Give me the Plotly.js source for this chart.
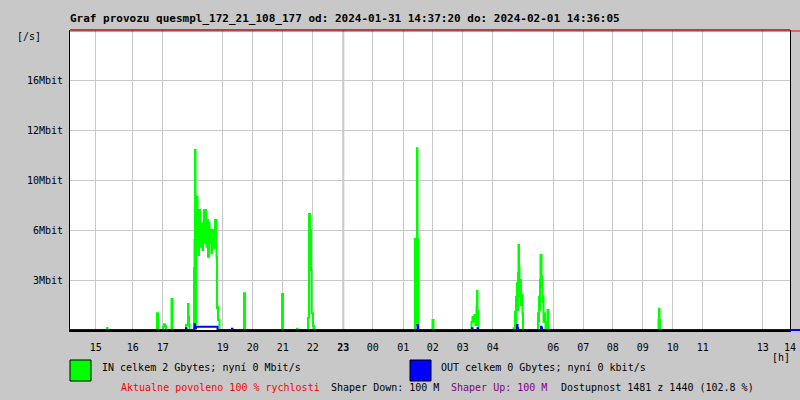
<!DOCTYPE html>
<html>
<head>
<meta charset="utf-8">
<script src="https://cdn.plot.ly/plotly-3.0.1.min.js"></script>
<style>
html,body{margin:0;padding:0;background:#c8c8c8;}
#chart{width:800px;height:400px;}
</style>
</head>
<body>
<div id="chart"></div>
<script>
// time axis: sample slot index (0..720 across the 24h window)
const tickSlots = [25.7, 62.7, 92.7, 152.7, 182.7, 212.7, 242.7, 273.3, 302.7, 333.3, 362.7, 392.7, 422.7, 483.3, 513.3, 542.7, 572.7, 602.7, 632.7, 692.7, 720];
const tickHours = ["15", "16", "17", "19", "20", "21", "22", "<b>23</b>", "00", "01", "02", "03", "04", "06", "07", "08", "09", "10", "11", "13", "14"];

const yTickVals = [3, 6, 9, 12, 15];
const yTickText = ["3Mbit", "6Mbit", "10Mbit", "12Mbit", "16Mbit"];

// IN traffic (green)
const inT = [0,
  36.5, 37, 37.5,
  86.5, 87, 87.5, 88, 88.5,
  92, 93, 94, 95, 96,
  101, 101.5, 102, 102.5,
  115.5, 116, 117, 118, 118.5, 119, 119.5,
  123.5, 124, 124.5, 125, 125.5, 126, 127, 127.5, 128, 128.5, 129, 130, 130.5, 131, 132, 132.5, 133, 134, 134.5, 135, 136, 136.5, 137, 138, 139, 139.5, 140, 141, 141.5, 142, 143, 143.5, 144, 145, 146, 146.5, 147, 147.5, 148, 149, 149.5,
  173.5, 174, 174.5, 175,
  211.5, 212, 212.5, 213,
  226.5, 227, 227.5,
  237.5, 238, 238.5, 239, 239.5, 240, 240.5, 241, 241.5, 242, 243, 244, 244.5,
  344.5, 345, 346, 346.5, 347, 347.5, 348, 348.5,
  362, 362.5, 363, 363.5,
  401, 401.5, 402.5, 403.5, 404.5, 405.5, 406.5, 407, 407.5, 408, 408.5,
  443, 443.5, 445, 445.5, 446, 446.5, 447, 447.5, 448, 448.5, 449, 449.5, 450, 450.5, 451, 452, 452.5, 453,
  467.5, 468, 468.5, 469, 469.5, 470, 470.5, 471, 471.5, 472, 472.5, 473, 473.5, 474, 475, 475.5, 477, 477.5, 478, 478.5,
  588, 588.5, 589, 589.5, 590,
  720];
const inVal = [0,
  0, 0.12, 0,
  0, 1.0, 1.0, 0.55, 0,
  0, 0.2, 0.35, 0.25, 0,
  0, 1.86, 1.86, 0,
  0, 0.3, 0.3, 1.56, 0.8, 0.3, 0,
  0, 3.7, 5.4, 10.8, 0.3, 8.0, 8.0, 5.0, 6.0, 4.5, 7.2, 6.4, 5.0, 6.4, 5.6, 4.8, 6.0, 7.2, 5.2, 7.2, 6.6, 5.0, 6.6, 4.4, 6.4, 5.2, 6.0, 5.6, 4.6, 5.6, 6.0, 4.9, 5.6, 6.6, 6.6, 4.4, 1.3, 1.4, 0.6, 0.6, 0,
  0, 2.2, 2.2, 0,
  0, 2.16, 2.16, 0,
  0, 0.08, 0,
  0, 0.74, 0.74, 6.96, 6.96, 4.2, 6.0, 3.6, 1.0, 1.0, 0.24, 0.1, 0,
  0, 5.46, 5.46, 0.3, 10.9, 5.46, 5.46, 0,
  0, 0.6, 0.6, 0,
  0, 0.5, 0.8, 0.5, 0.9, 0.3, 1.4, 2.34, 1.14, 1.14, 0,
  0, 0.1, 1.1, 0.3, 2.0, 1.5, 2.8, 1.2, 3.4, 5.1, 3.8, 3.0, 2.0, 3.0, 1.5, 2.1, 1.0, 0,
  0, 1.0, 0.5, 2.0, 1.2, 3.0, 4.5, 4.5, 2.6, 3.2, 1.7, 2.0, 0.5, 1.0, 0.5, 0, 0, 1.2, 1.2, 0,
  0, 0.6, 1.26, 0.6, 0,
  0];

// OUT traffic (blue)
const outT = [0, 115.5, 116, 116.5, 124, 124.5, 125, 126, 147, 147.5, 161.5, 162, 162.5, 347, 347.5, 348, 401.5, 402, 402.5, 407, 407.5, 408, 446.5, 447, 447.5, 448, 470.5, 471, 471.5, 472, 720];
const outVal = [0, 0, 0.1, 0, 0, 0.35, 0.1, 0.2, 0.2, 0, 0, 0.08, 0, 0, 0.3, 0, 0, 0.1, 0, 0, 0.1, 0, 0, 0.3, 0.1, 0, 0, 0.2, 0.1, 0, 0];

const titleText = "Graf provozu quesmpl_172_21_108_177 od: 2024-01-31 14:37:20 do: 2024-02-01 14:36:05";
const inLegend = "IN celkem 2 Gbytes; nyní 0 Mbit/s";
const outLegend = "OUT celkem 0 Gbytes; nyní 0 kbit/s";
const infoTexts = ["Aktualne povoleno 100 % rychlosti", "Shaper Down: 100 M", "Shaper Up: 100 M", "Dostupnost 1481 z 1440 (102.8 %)"];
const infoColors = ["#ff0000", "#000000", "#800080", "#000000"];
const infoX = [119, 329, 449, 559];

const MONO = "DejaVu Sans Mono, Liberation Mono, monospace";
const W = 800, H = 400, L = 70, R = 10, T = 30, B = 70;
const pw = W - L - R, ph = H - T - B;
function px2paperX(p) { return (p - L) / pw; }
function px2paperY(p) { return (H - B - p) / ph; }

const traces = [
  {x: inT, y: inVal, type: 'scatter', mode: 'lines', line: {color: '#00ff00', width: 2, shape: 'hv'}, hoverinfo: 'skip'},
  {x: outT, y: outVal, type: 'scatter', mode: 'lines', line: {color: '#0000ff', width: 2, shape: 'hv'}, hoverinfo: 'skip'}
];

const annotations = [
  {text: "[/s]", x: 15, y: 37, xanchor: 'left', yanchor: 'middle', showarrow: false, font: {family: MONO, size: 10, color: '#000'}},
  {text: "[h]", x: 770, y: 357, xanchor: 'left', yanchor: 'middle', showarrow: false, font: {family: MONO, size: 10, color: '#000'}},
  {text: inLegend, x: 100, y: 367, xanchor: 'left', yanchor: 'middle', showarrow: false, font: {family: MONO, size: 10, color: '#000'}},
  {text: outLegend, x: 439, y: 367, xanchor: 'left', yanchor: 'middle', showarrow: false, font: {family: MONO, size: 10, color: '#000'}}
];
// convert pixel positions to paper coordinates
annotations.forEach(a => { a.x = px2paperX(a.x); a.y = px2paperY(a.y); a.xref = 'paper'; a.yref = 'paper'; });
infoTexts.forEach((t, i) => {
  annotations.push({text: t, x: px2paperX(infoX[i]), y: px2paperY(387), xref: 'paper', yref: 'paper', xanchor: 'left', yanchor: 'middle', showarrow: false, font: {family: MONO, size: 10, color: infoColors[i]}});
});

const shapes = [
  // midnight divider
  {type: 'line', xref: 'x', yref: 'paper', x0: tickSlots[7], x1: tickSlots[7], y0: 0, y1: 1, line: {color: '#c8c8c8', width: 2}, layer: 'below'},
  // top border + max line
  {type: 'line', xref: 'paper', yref: 'paper', x0: 0, x1: 1, y0: 1, y1: 1, line: {color: '#000', width: 1}},
  {type: 'line', xref: 'paper', yref: 'paper', x0: 0, x1: px2paperX(800), y0: px2paperY(31), y1: px2paperY(31), line: {color: '#ff0000', width: 1}},
  // bottom extension (OUT)
  {type: 'line', xref: 'paper', yref: 'paper', x0: 1, x1: px2paperX(800), y0: 0, y1: 0, line: {color: '#0000ff', width: 2}},
  // legend boxes
  {type: 'rect', xref: 'paper', yref: 'paper', x0: px2paperX(70), x1: px2paperX(91), y0: px2paperY(360), y1: px2paperY(381), fillcolor: '#00ff00', line: {color: '#000', width: 1}},
  {type: 'rect', xref: 'paper', yref: 'paper', x0: px2paperX(410), x1: px2paperX(431), y0: px2paperY(360), y1: px2paperY(381), fillcolor: '#0000ff', line: {color: '#000', width: 1}}
];

const layout = {
  width: W, height: H,
  margin: {l: L, r: R, t: T, b: B, pad: 0},
  paper_bgcolor: '#c8c8c8',
  plot_bgcolor: '#ffffff',
  showlegend: false,
  hovermode: false,
  title: {text: "<b>" + titleText + "</b>", x: 70 / W, xanchor: 'left', xref: 'container', y: 1 - 18 / H, yanchor: 'middle', yref: 'container', font: {family: MONO, size: 11, color: '#000'}},
  xaxis: {
    range: [0, 720], fixedrange: true,
    tickmode: 'array', tickvals: tickSlots, ticktext: tickHours,
    showgrid: true, gridcolor: '#c8c8c8', gridwidth: 1,
    zeroline: false, showline: true, linecolor: '#000', linewidth: 2,
    ticks: '', ticklabelstandoff: 7,
    tickfont: {family: MONO, size: 10, color: '#000'}
  },
  yaxis: {
    range: [0, 18], fixedrange: true,
    tickmode: 'array', tickvals: yTickVals, ticktext: yTickText,
    showgrid: true, gridcolor: '#c8c8c8', gridwidth: 1,
    zeroline: false, showline: true, mirror: true, linecolor: '#000', linewidth: 1,
    ticks: '', ticklabelstandoff: 4,
    tickfont: {family: MONO, size: 10, color: '#000'}
  },
  shapes: shapes,
  annotations: annotations
};

Plotly.newPlot('chart', traces, layout, {staticPlot: true, displayModeBar: false});
</script>
</body>
</html>
